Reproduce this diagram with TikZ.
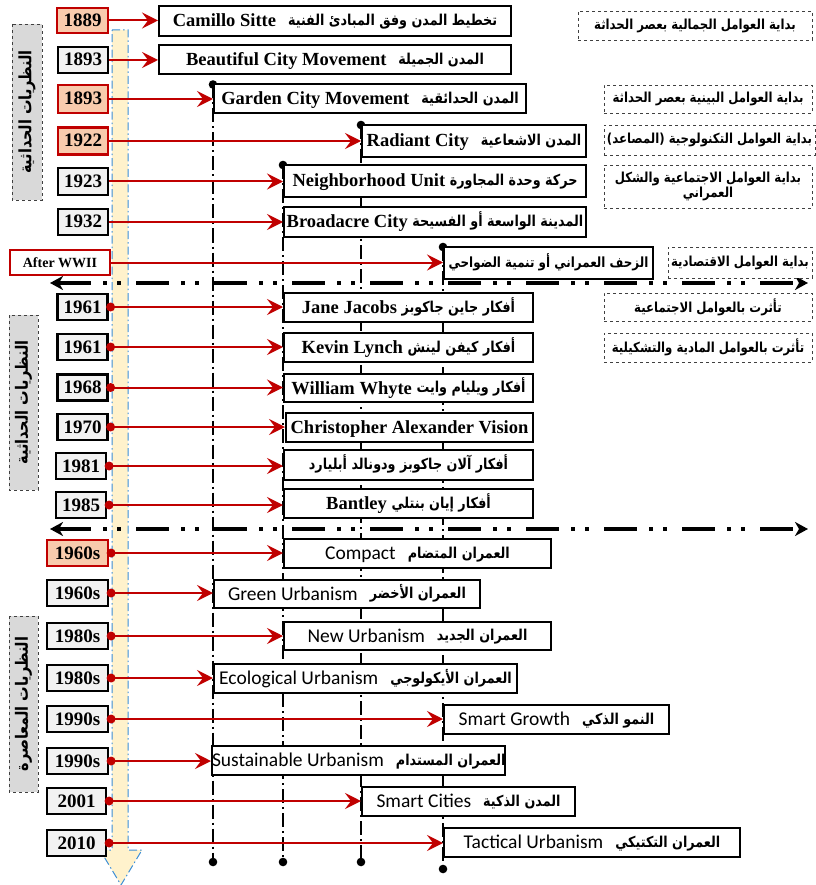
\documentclass[tikz,border=0pt]{standalone}
\usepackage{fontspec}
\usetikzlibrary{arrows.meta}
\setmainfont{Liberation Serif}
\newfontfamily\calfont{Carlito}
\newfontfamily\arfont[Script=Arabic, FakeStretch=0.85]{DejaVu Sans}
\TeXXeTstate=1
\newcommand{\AR}[2][15]{\raisebox{1.2pt}{\arfont\bfseries\fontsize{#1}{#1}\selectfont\beginR #2\endR}}
\newcommand{\gap}{\hspace{12pt}}
\definecolor{dred}{HTML}{C00000}
\definecolor{salmon}{HTML}{F8CBAD}
\definecolor{lgray}{HTML}{F2F2F2}
\definecolor{bandc}{HTML}{FFF2CC}
\definecolor{bblue}{HTML}{3B8ED6}
\definecolor{sidegray}{HTML}{D9D9D9}
\tikzset{
  yr/.style={draw=black, line width=2.2pt, fill=lgray, minimum height=26pt, minimum width=50pt, inner sep=0pt, text height=13pt, text depth=1pt, font=\bfseries\fontsize{19}{19}\selectfont},
  yrred/.style={yr, draw=dred, fill=salmon},
  th/.style={draw, line width=2pt, fill=white, anchor=west, minimum height=29pt, inner sep=0pt, text height=15pt, text depth=3pt, font=\bfseries\fontsize{18.5}{20}\selectfont},
  thc/.style={th, font=\calfont\fontsize{19.5}{20}\selectfont},
  note/.style={draw=black!75, dashed, line width=0.7pt, fill=white, inner sep=0pt, align=center},
  side/.style={draw=black!75, dashed, line width=0.7pt, fill=sidegray, inner sep=0pt, rotate=90, font=\arfont\bfseries\fontsize{17}{17}\selectfont},
  arr/.style={draw=dred, line width=2pt, -{Stealth[length=16pt,width=16pt,inset=6pt]}},
  vline/.style={line width=1.3pt, dash pattern=on 14pt off 4pt on 2pt off 4pt},
  hline/.style={line width=3.5pt, dash pattern=on 33pt off 12pt on 4pt off 10pt on 4pt off 15pt, {Stealth[length=13pt,width=14pt,inset=4pt]}-{Stealth[length=13pt,width=14pt,inset=4pt]}},
  dotr/.style={fill=dred}
}
\begin{document}
\begin{tikzpicture}[x=1pt,y=-1pt]
\useasboundingbox (0,0) rectangle (815,885);
% timeline band
\draw[fill=bandc, draw=bblue, line width=1pt, dash pattern=on 8pt off 3pt on 1.5pt off 3pt]
  (112,30) -- (128,30) -- (128,850) -- (142,850) -- (121,885) -- (100,850) -- (112,850) -- cycle;

% coordinates
\coordinate (b1) at (213,862);
\coordinate (b2) at (283,862);
\coordinate (b3) at (361,862);
\coordinate (b4) at (443,869);
\coordinate (t3nw) at (213,84.5);
\coordinate (t4nw) at (361,125);
\coordinate (t5nw) at (283,165);
\coordinate (t7nw) at (443,247);

% vertical dash-dot lines
\draw[vline] (t3nw) -- (b1);
\draw[vline] (t5nw) -- (b2);
\draw[vline] (t4nw) -- (b3);
\draw[vline] (t7nw) -- (b4);
\foreach \c in {b1,b2,b3,b4,t3nw,t4nw,t5nw,t7nw} \fill (\c) circle (4.3);

% horizontal thick separators
\coordinate (h1a) at (50,283); \coordinate (h1b) at (808,283);
\coordinate (h2a) at (50,529); \coordinate (h2b) at (808,529);
\draw[hline] (h1a) -- (h1b);
\draw[hline] (h2a) -- (h2b);

% year boxes
\node[yrred, minimum width=51pt, minimum height=25pt] (y1) at (82.5,20.5) {1889};
\node[yr] (y2) at (83,60) {1893};
\node[yrred, minimum height=28pt] (y3) at (83,99) {1893};
\node[yrred, minimum height=27pt] (y4) at (83,141) {1922};
\node[yr, minimum height=27pt] (y5) at (83,181.5) {1923};
\node[yr] (y6) at (83,222) {1932};
\node[yrred, fill=white, minimum width=100pt, minimum height=25pt, text height=10pt, font=\bfseries\fontsize{14}{14}\selectfont] (y7) at (60,262.5) {After WWII};
\node[yr] (y8) at (82.5,307) {1961};
\node[yr] (y9) at (82.5,347) {1961};
\node[yr] (y10) at (82.5,387.5) {1968};
\node[yr] (y11) at (82.5,427) {1970};
\node[yr] (y12) at (81,466) {1981};
\node[yr] (y13) at (81,505) {1985};
\node[yrred, minimum width=61pt] (y14) at (77.5,553) {1960s};
\node[yr, minimum width=61pt] (y15) at (77.5,593) {1960s};
\node[yr, minimum width=61pt] (y16) at (77.5,636) {1980s};
\node[yr, minimum width=61pt] (y17) at (77.5,678) {1980s};
\node[yr, minimum width=61pt] (y18) at (77.5,719) {1990s};
\node[yr, minimum width=61pt] (y19) at (77.5,761) {1990s};
\node[yr, minimum width=59pt] (y20) at (76.5,801) {2001};
\node[yr, minimum width=59pt] (y21) at (76.5,843) {2010};

% theory boxes
\node[th, minimum width=352pt, minimum height=30pt] (t1) at (158,21) {Camillo Sitte\gap\AR{تخطيط المدن وفق المبادئ الفنية}};
\node[th, minimum width=352pt] (t2) at (158,60) {Beautiful City Movement\gap\AR{المدن الجميلة}};
\node[th, minimum width=312pt] (t3) at (213,99) {Garden City Movement\gap\AR{المدن الحدائقية}};
\node[th, minimum width=224pt, minimum height=32pt] (t4) at (361,141) {Radiant City\gap\AR{المدن الاشعاعية}};
\node[th, minimum width=302pt, minimum height=32pt] (t5) at (283,181) {Neighborhood Unit \AR{حركة وحدة المجاورة}};
\node[th, minimum width=302pt, minimum height=30pt] (t6) at (283,222) {Broadacre City \AR{المدينة الواسعة أو الفسيحة}};
\node[th, minimum width=209pt, minimum height=32pt] (t7) at (443,263) {\AR[14]{الزحف العمراني أو تنمية الضواحي}};
\node[th, minimum width=249pt] (t8) at (283,307.5) {Jane Jacobs \AR{أفكار جاين جاكوبز}};
\node[th, minimum width=249pt] (t9) at (283,347.5) {Kevin Lynch \AR{أفكار كيفن لينش}};
\node[th, minimum width=249pt, minimum height=28pt] (t10) at (283,388) {William Whyte \AR{أفكار ويليام وايت}};
\node[th, minimum width=247pt] (t11) at (285,427.5) {Christopher Alexander Vision};
\node[th, minimum width=249pt, minimum height=30pt] (t12) at (283,465) {\AR{أفكار آلان جاكوبز ودونالد أبليارد}};
\node[th, minimum width=249pt] (t13) at (283,503.5) {Bantley \AR{أفكار إيان بنتلي}};
\node[thc, minimum width=267pt] (t14) at (283,553.5) {Compact\gap\AR{العمران المتضام}};
\node[thc, minimum width=266pt, minimum height=28pt] (t15) at (213,594) {Green Urbanism\gap\AR{العمران الأخضر}};
\node[thc, minimum width=267pt, minimum height=28pt] (t16) at (283,636) {New Urbanism\gap\AR{العمران الجديد}};
\node[thc, minimum width=303pt] (t17) at (213,678.5) {Ecological Urbanism\gap\AR{العمران الأيكولوجي}};
\node[thc, minimum width=225pt] (t18) at (443,719.5) {Smart Growth\gap\AR{النمو الذكي}};
\node[thc, minimum width=284pt] (t19) at (211,760.5) {Sustainable Urbanism\gap\AR{العمران المستدام}};
\node[thc, minimum width=213pt] (t20) at (361,801.5) {Smart Cities\gap\AR{المدن الذكية}};
\node[thc, minimum width=296pt] (t21) at (443,842.5) {Tactical Urbanism\gap\AR{العمران التكتيكي}};

% arrows
\foreach \i in {1,...,7} \draw[arr] (y\i.east) -- (y\i.east -| t\i.west);
\foreach \i in {8,...,21} {
  \draw[arr] (y\i.east) -- (y\i.east -| t\i.west);
  \fill[dotr] (y\i.east) ++(2,0) circle (4.5);
}

% right notes
\node[note, minimum width=234pt, minimum height=29pt] (n1) at (695,25.5) {\AR[13.8]{بداية العوامل الجمالية بعصر الحداثة}};
\node[note, minimum width=208pt, minimum height=28pt] (n2) at (708,99) {\AR[13.8]{بداية العوامل البينية بعصر الحداثة}};
\node[note, minimum width=211pt, minimum height=30pt] (n3) at (709.5,140) {\AR[13.8]{بداية العوامل التكنولوجية (المصاعد)}};
\node[note, minimum width=208pt, minimum height=43pt] (n4) at (708,186.5) {\AR[13.8]{بداية العوامل الاجتماعية والشكل}\\[1pt]\AR[13.8]{العمراني}};
\node[note, minimum width=144pt, minimum height=31pt] (n5) at (740,262.5) {\AR[13.8]{بداية العوامل الاقتصادية}};
\node[note, minimum width=208pt, minimum height=28pt] (n6) at (708,307) {\AR[13.8]{تأثرت بالعوامل الاجتماعية}};
\node[note, minimum width=208pt, minimum height=29pt] (n7) at (708,347.5) {\AR[13.8]{تأثرت بالعوامل المادية والتشكيلية}};

% side labels
\node[side, minimum width=176pt, minimum height=30pt] (s1) at (27,112) {\beginR النظريات الحداثية\endR};
\node[side, minimum width=175pt, minimum height=29pt] (s2) at (23.5,402.5) {\beginR النظريات الحداثية\endR};
\node[side, minimum width=176pt, minimum height=29pt] (s3) at (23.5,704) {\beginR النظريات المعاصرة\endR};
\end{tikzpicture}
\end{document}
